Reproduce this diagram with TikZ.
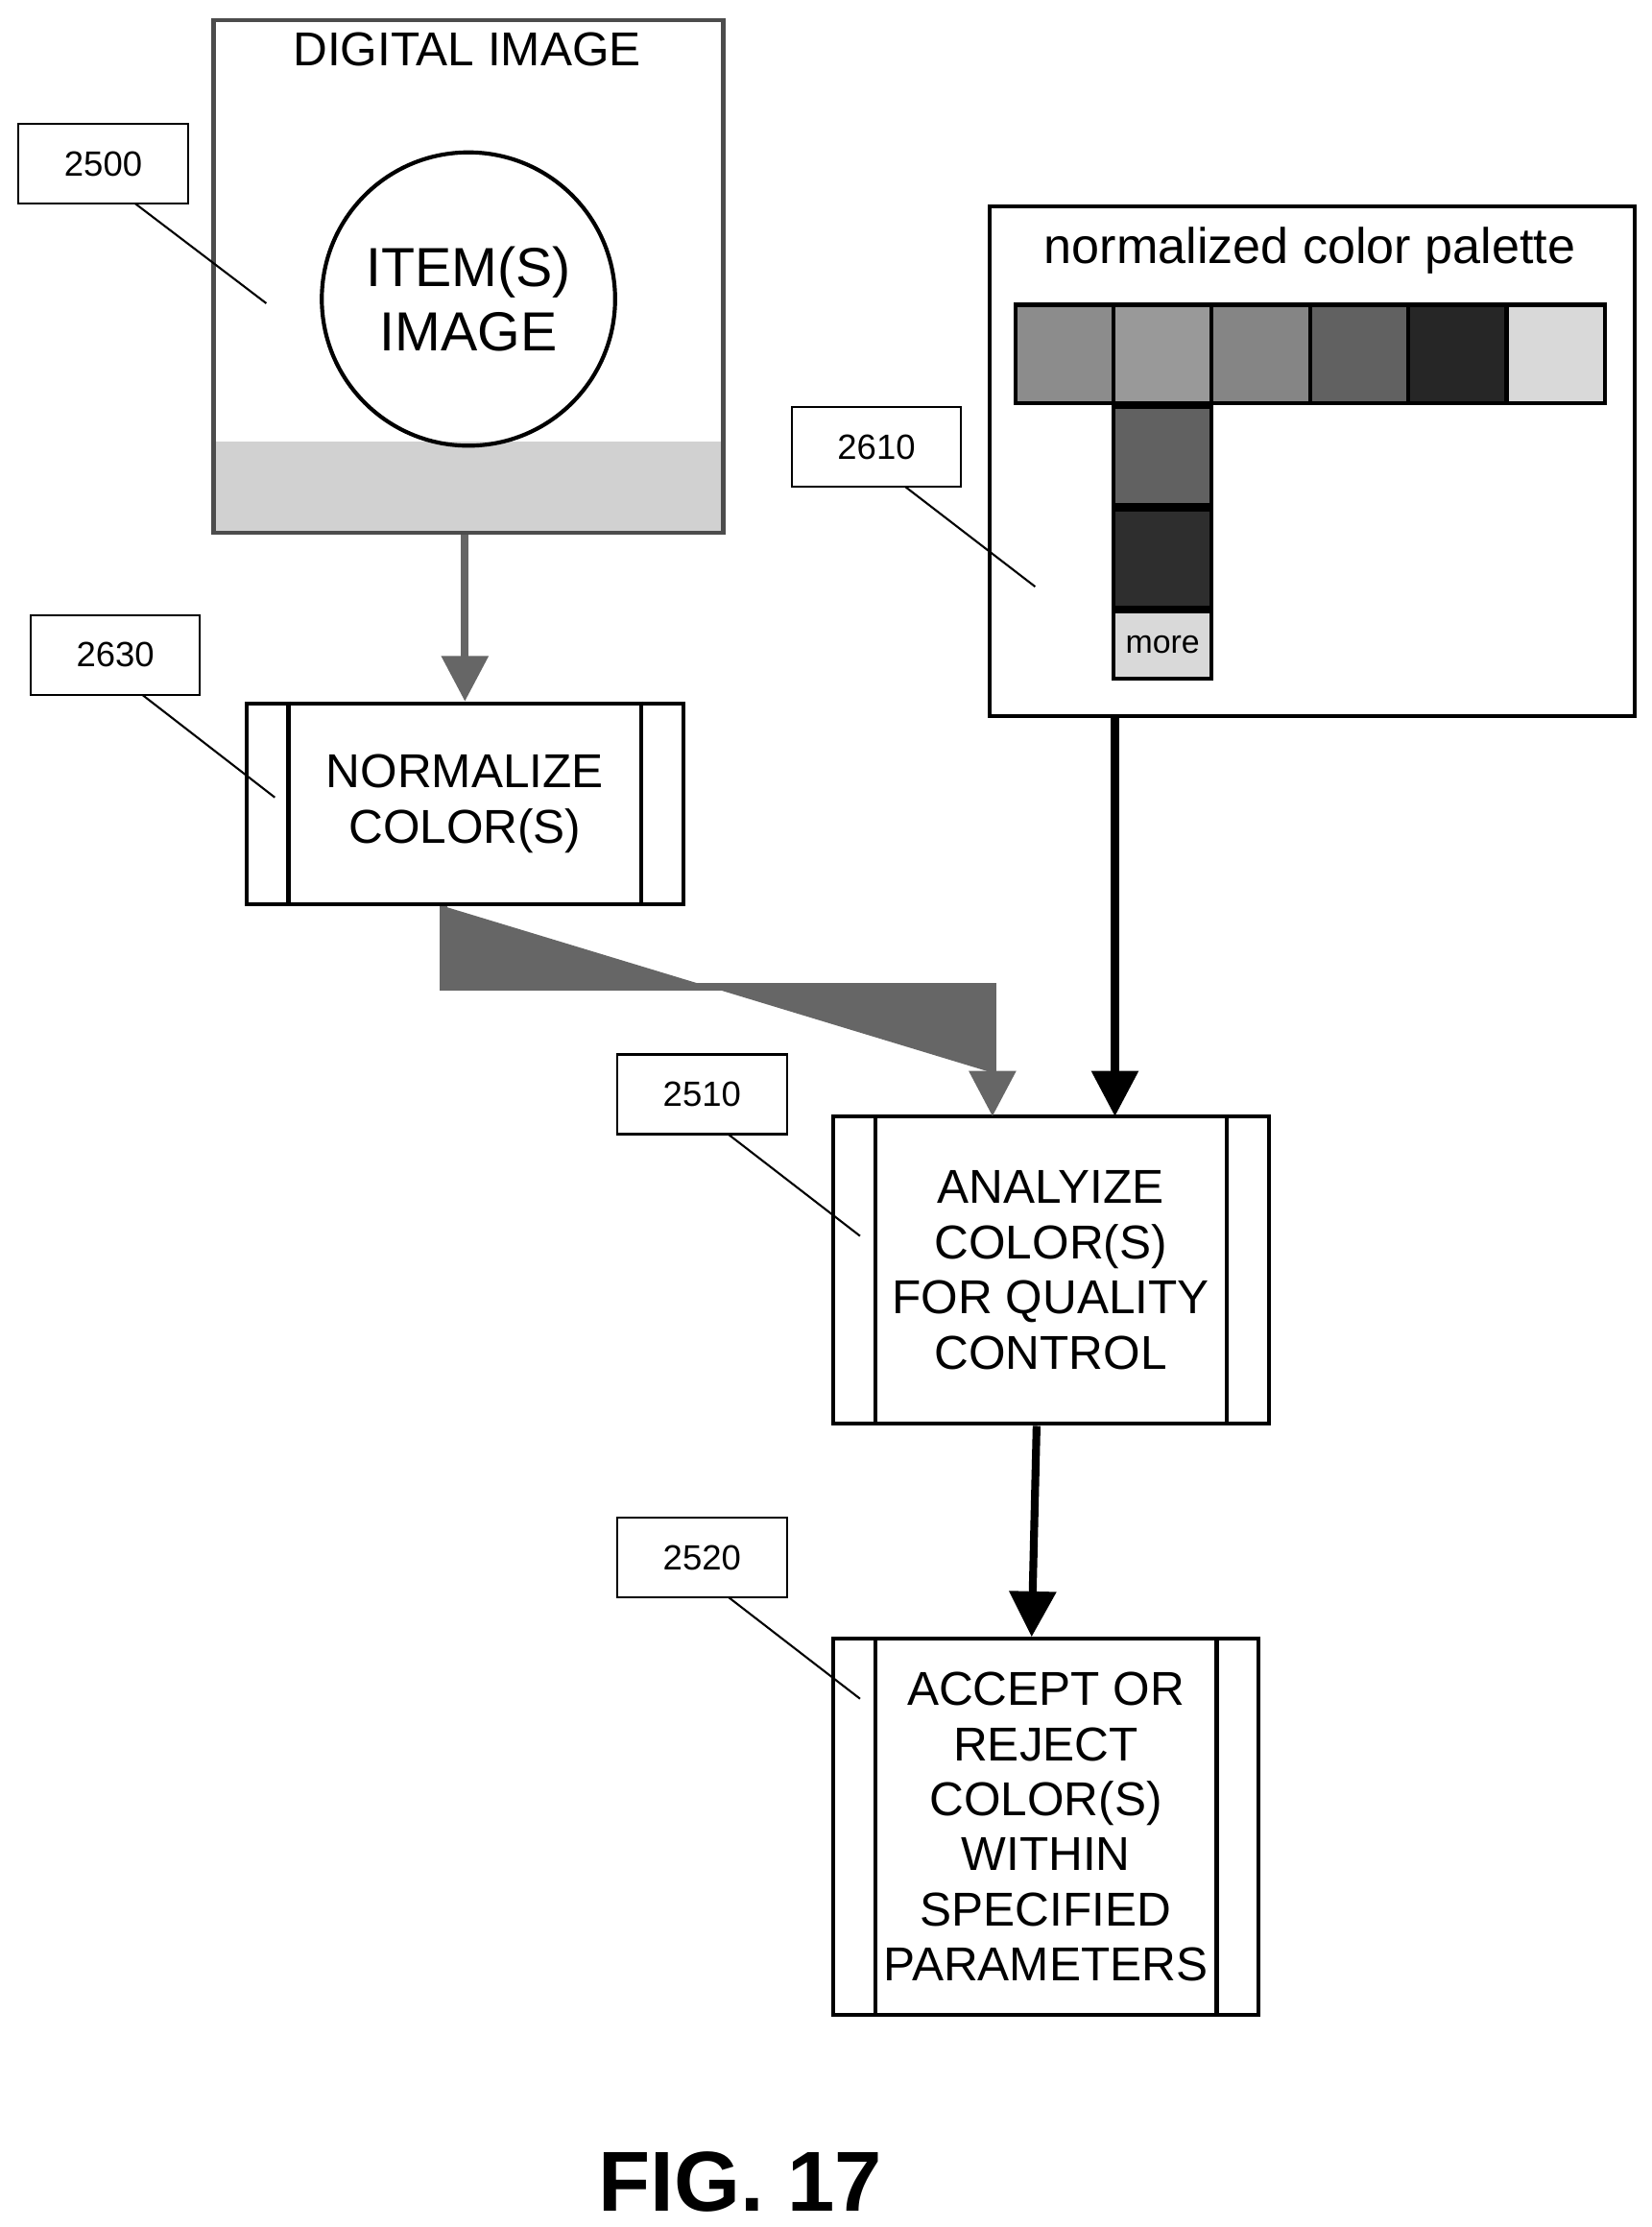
\documentclass[tikz,border=0pt]{standalone}
\usepackage{fontspec}
\setmainfont{Liberation Sans}
\usetikzlibrary{positioning,calc,arrows.meta}
\begin{document}
\begin{tikzpicture}
[x=1cm,y=1cm,
edge/.style={line width=.55mm,-{Triangle[width=3.2mm,length=3.2mm]}},
gedge/.style={edge,draw=black!60,fill=black!60},
refbox/.style={draw=black,thin,minimum width=1.19cm,minimum height=.56cm,font=\fontsize{7}{8}\selectfont},
process/.style={draw=black,thick,align=center,font=\fontsize{9.5}{11}\selectfont},
swatch/.style={draw=black,thick,minimum width=.69cm,minimum height=.69cm,inner sep=0pt}]
\useasboundingbox (0,0) rectangle (11.6,-15.64);
%% digital image
\fill[black!18] (1.5,-3.1) rectangle (5.08,-3.74);
\node[draw=black!70,thick,minimum width=3.58cm,minimum height=3.6cm] (img) at (3.29,-1.94) {};
\node[font=\fontsize{9.5}{11}\selectfont] (imgt) at (3.28,-.35) {DIGITAL IMAGE};
\node[draw,thick,circle,minimum size=2.06cm,align=center,font=\fontsize{11}{13}\selectfont] (item) at (3.29,-2.1) {ITEM(S)\\IMAGE};
\node[refbox] (r2500) at (.725,-1.15) {2500};
\draw (.95,-1.43) -- (1.87,-2.13);
%% palette
\node[draw,thick,minimum width=4.53cm,minimum height=3.58cm] (pal) at (9.215,-3.24) {};
\node[font=\fontsize{10}{12}\selectfont] (palt) at (9.2,-1.76) {normalized color palette};
\foreach \i/\g in {0/45,1/40,2/48,3/62,4/85,5/15}
  \node[swatch,fill=black!\g] (s\i) at (7.475+.69*\i,-2.485) {};
\node[swatch,fill=black!62,below=0pt of s1] (c1) {};
\node[swatch,fill=black!82,below=0pt of c1] (c2) {};
\node[swatch,fill=black!15,minimum height=.47cm,below=0pt of c2,font=\fontsize{6.5}{7}\selectfont] (c3) {more};
\node[refbox] (r2610) at (6.155,-3.14) {2610};
\draw (6.36,-3.42) -- (7.27,-4.12);
%% process boxes
\node[process,minimum width=3.07cm,minimum height=1.41cm] (norm) at (3.265,-5.645) {NORMALIZE\\COLOR(S)};
\node[process,minimum width=3.06cm,minimum height=2.16cm] (anl) at (7.38,-8.92) {ANALYIZE\\COLOR(S)\\FOR QUALITY\\CONTROL};
\node[process,minimum width=2.99cm,minimum height=2.64cm] (acc) at (7.345,-12.83) {ACCEPT OR\\REJECT\\COLOR(S)\\WITHIN\\SPECIFIED\\PARAMETERS};
\foreach \n in {norm,anl,acc}{
  \draw[thick] ([xshift=.31cm]\n.north west) -- ([xshift=.31cm]\n.south west);
  \draw[thick] ([xshift=-.31cm]\n.north east) -- ([xshift=-.31cm]\n.south east);}
\node[refbox] (r2630) at (.81,-4.6) {2630};
\draw (1.0,-4.88) -- (1.93,-5.6);
\node[refbox] (r2510) at (4.93,-7.685) {2510};
\draw (5.12,-7.97) -- (6.04,-8.68);
\node[refbox] (r2520) at (4.93,-10.94) {2520};
\draw (5.12,-11.22) -- (6.04,-11.93);
%% connectors
\draw[gedge] (img.south-|norm.north) -- (norm.north);
\draw[gedge] ([xshift=-.15cm]norm.south) |- (6.97,-6.93) -- (6.97,-7.84);
\draw[edge] (7.83,-5.03) -- (7.83,-7.84);
\draw[edge] ([xshift=-.1cm]anl.south) -- ([xshift=-.1cm]acc.north);
\node[font=\bfseries\fontsize{17}{20}\selectfont] (fig) at (5.2,-15.32) {FIG. 17};
\end{tikzpicture}
\end{document}
